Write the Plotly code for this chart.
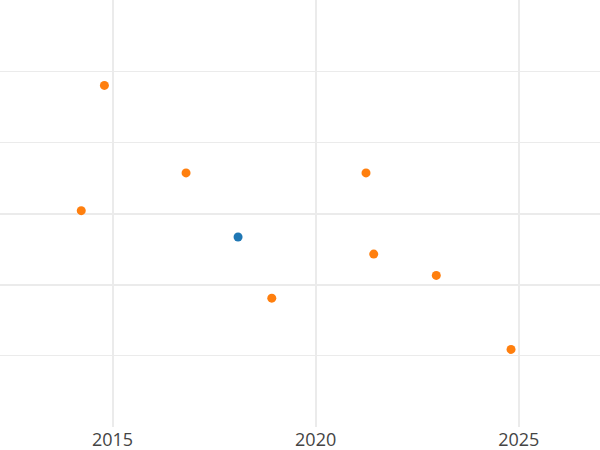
import plotly.graph_objects as go

# Data
orange_x = [2014.80, 2016.81, 2014.23, 2021.24, 2021.43, 2022.97, 2018.92, 2024.81]
orange_y = [4.80, 3.57, 3.04, 3.57, 2.43, 2.13, 1.81, 1.09]
blue_x = [2018.09]
blue_y = [2.67]

x_ticks = [2015, 2020, 2025]
y_grid = [1, 2, 3, 4, 5]
y_grid_strong = [2, 3]

GRID = "#EBEBEB"

fig = go.Figure()
fig.add_trace(go.Scatter(x=orange_x, y=orange_y, mode="markers",
                         marker=dict(color="#ff7f0e", size=9), showlegend=False))
fig.add_trace(go.Scatter(x=blue_x, y=blue_y, mode="markers", yaxis="y2",
                         marker=dict(color="#1f77b4", size=9), showlegend=False))

fig.update_layout(
    width=600, height=450,
    margin=dict(l=0, r=0, t=0, b=23, pad=0),
    paper_bgcolor="white", plot_bgcolor="white",
    font=dict(family="Open Sans", size=18, color="#444"),
    xaxis=dict(range=[2012.23, 2027.0], tickmode="array", tickvals=x_ticks,
               showgrid=True, gridcolor=GRID, gridwidth=2, zeroline=False,
               showline=False, ticks=""),
    yaxis=dict(range=[0, 6], tickmode="array", tickvals=y_grid,
               showgrid=True, gridcolor=GRID, gridwidth=1, zeroline=False,
               showticklabels=False, showline=False, ticks=""),
    yaxis2=dict(range=[0, 6], overlaying="y", side="right", tickmode="array",
                tickvals=y_grid_strong, showgrid=True, gridcolor=GRID, gridwidth=2,
                zeroline=False, showticklabels=False, showline=False, ticks=""),
)

fig.write_html("out.html", config={"displayModeBar": False},
               post_script="document.body.style.margin='0';document.body.style.overflow='hidden';")
